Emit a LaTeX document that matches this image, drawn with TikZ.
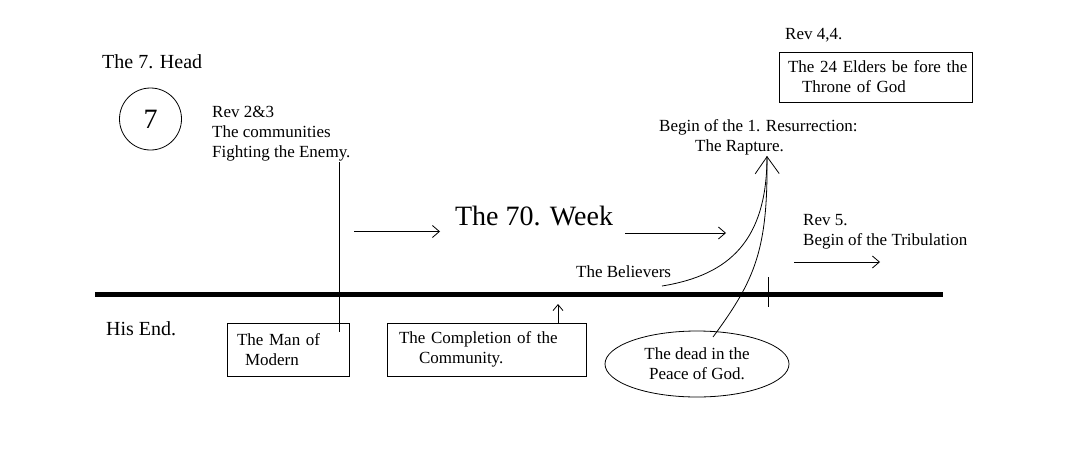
\documentclass[tikz,border=0pt]{standalone}
\usepackage{fontspec}
\setmainfont{Liberation Serif}
\usetikzlibrary{arrows.meta,shapes.geometric}
\begin{document}
\begin{tikzpicture}[x=1pt,y=-1pt,
 txt/.style={inner sep=0pt,anchor=west,font=\fontsize{17}{20}\selectfont,align=left},
 bigtxt/.style={inner sep=0pt,anchor=west,font=\fontsize{20}{24}\selectfont},
 thinline/.style={line width=0.8pt},
 boxed/.style={draw,line width=0.9pt,inner xsep=10pt,inner ysep=0pt,align=left,font=\fontsize{17}{20}\selectfont},
 arr/.style={thinline,-{Straight Barb[length=7pt,width=12pt,line width=0.8pt]}},
 smallarr/.style={thinline,-{Straight Barb[length=6pt,width=10pt,line width=0.8pt]}},
 bigarr/.style={thinline,-{Straight Barb[length=17pt,width=24pt,line width=0.8pt]}},
]
\useasboundingbox[fill=white] (0,0) rectangle (1070,455);

% left texts
\node[bigtxt] (head) at (102,62) {The 7. Head};
\node[draw,circle,thinline,minimum size=62pt,inner sep=0pt,font=\fontsize{28}{28}\selectfont] (seven) at (150.5,119) {7};
\node[txt] (rev23) at (212,134) {Rev 2\&3\\The communities\\Fighting the Enemy.};
\node[bigtxt] (hisend) at (106,329) {His End.};

% timeline
\coordinate (tl) at (95,294.5);
\coordinate (tr) at (943,294.5);
\draw[line width=4.5pt] (tl) -- (tr);
\coordinate (ticktop) at (768,277);
\coordinate (tickbot) at (768,307);
\draw[thinline] (ticktop) -- (tickbot);

% vertical line to the Man of Modern
\coordinate (vtop) at (339,162);
\coordinate (vbot) at (339,332);
\draw[thinline] (vtop) -- (vbot);

% boxes below
\node[boxed,text width=102pt,minimum height=53pt] (man) at (288,349.5) {The Man of\\\hspace*{8pt}Modern};
\node[boxed,inner xsep=12pt,text width=175pt,minimum height=53pt] (comp) at (486.5,349.5) {The Completion of the\\\hspace*{20pt}Community.};
\coordinate (upend) at (558,304);
\draw[smallarr] (comp.north -| upend) -- (upend);

% the 70. week
\coordinate (a1s) at (354,231.5);
\coordinate (a1e) at (440,231.5);
\draw[arr] (a1s) -- (a1e);
\node[inner sep=0pt,font=\fontsize{28}{32}\selectfont] (week) at (534,216) {The 70. Week};
\coordinate (a2s) at (625,233);
\coordinate (a2e) at (726,233);
\draw[arr] (a2s) -- (a2e);

% rapture
\node[txt] (believers) at (576,272) {The Believers};
\node[txt] (resur) at (659,137) {Begin of the 1. Resurrection:\\\hspace*{36pt}The Rapture.};
\node[draw,ellipse,thinline,minimum width=184pt,minimum height=66pt,inner sep=0pt,align=center,font=\fontsize{17}{20}\selectfont] (dead) at (697,364) {The dead in the\\Peace of God.};
\coordinate (tip) at (767,156);
\coordinate (bstart) at (662,286);
\coordinate (dstart) at (713,337);
\draw[thinline] (bstart) .. controls (730,275) and (767,240) .. (tip);
\draw[bigarr] (dstart) .. controls (755,280) and (768,250) .. (tip);

% top right
\node[txt] (rev44) at (785,35) {Rev 4,4.};
\node[boxed,inner xsep=3pt,text width=187pt,minimum height=50pt] (elders) at (875.5,77) {\hspace*{6pt}The 24 Elders be fore the\\\hspace*{20pt}Throne of God};

% tribulation
\node[txt] (rev5) at (803,232) {Rev 5.\\Begin of the Tribulation};
\coordinate (a3s) at (794,262);
\coordinate (a3e) at (880,262);
\draw[arr] (a3s) -- (a3e);
\end{tikzpicture}
\end{document}
